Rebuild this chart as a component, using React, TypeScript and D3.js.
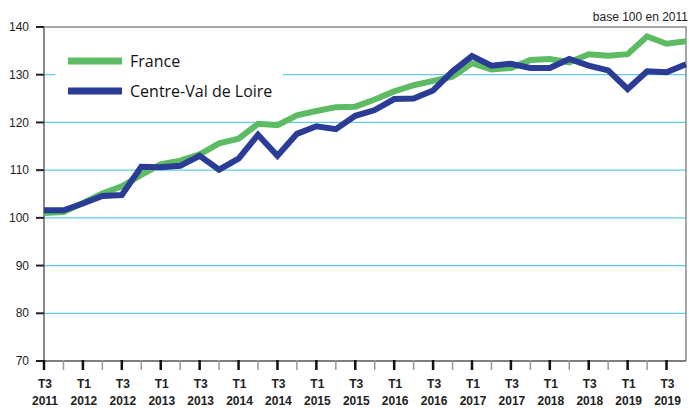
import { useRef, useEffect } from "react";
import * as d3 from "d3";

const quarters = [
  "T3 2011", "T4 2011", "T1 2012", "T2 2012", "T3 2012", "T4 2012",
  "T1 2013", "T2 2013", "T3 2013", "T4 2013", "T1 2014", "T2 2014",
  "T3 2014", "T4 2014", "T1 2015", "T2 2015", "T3 2015", "T4 2015",
  "T1 2016", "T2 2016", "T3 2016", "T4 2016", "T1 2017", "T2 2017",
  "T3 2017", "T4 2017", "T1 2018", "T2 2018", "T3 2018", "T4 2018",
  "T1 2019", "T2 2019", "T3 2019", "T4 2019",
];

const france = [
  101.0, 101.2, 103.1, 105.1, 106.6, 109.0, 111.2, 112.0, 113.3, 115.6,
  116.6, 119.7, 119.4, 121.5, 122.4, 123.2, 123.3, 124.8, 126.5, 127.8,
  128.7, 129.6, 132.4, 131.1, 131.4, 133.1, 133.3, 132.6, 134.3, 134.0,
  134.3, 138.0, 136.5, 137.0,
];

const centreValDeLoire = [
  101.6, 101.6, 103.0, 104.6, 104.8, 110.7, 110.6, 110.9, 113.0, 110.1,
  112.4, 117.4, 113.0, 117.6, 119.2, 118.6, 121.4, 122.6, 124.9, 125.0,
  126.7, 130.7, 133.9, 131.9, 132.3, 131.4, 131.4, 133.3, 131.9, 130.9,
  127.0, 130.7, 130.5, 132.2,
];

const yTicks = [70, 80, 90, 100, 110, 120, 130, 140];

const series = [
  { name: "France", values: france, color: "#5dbb63" },
  { name: "Centre-Val de Loire", values: centreValDeLoire, color: "#2b3c96" },
];

export default function App() {
  const svgRef = useRef<SVGSVGElement>(null);

  useEffect(() => {
    if (!svgRef.current) return;
    const width = 689;
    const height = 408;
    const left = 44, right = 686, top = 27, bottom = 361;

    const svg = d3.select(svgRef.current);
    svg.selectAll("*").remove();
    svg.attr("width", width).attr("height", height);

    const x = d3.scalePoint<string>().domain(quarters).range([left, right]);
    const y = d3.scaleLinear().domain([70, 140]).range([bottom, top]);

    // gridlines
    svg.append("g")
      .selectAll("line")
      .data(yTicks.filter((t) => t > 70 && t < 140))
      .join("line")
      .attr("x1", left)
      .attr("x2", right)
      .attr("y1", (d) => y(d))
      .attr("y2", (d) => y(d))
      .attr("stroke", "#62cbef")
      .attr("stroke-width", 1.2);

    // legend background hides the 130 gridline
    svg.append("rect")
      .attr("x", 55).attr("y", 38)
      .attr("width", 228).attr("height", 70)
      .attr("fill", "#fff");

    // frame
    svg.append("path")
      .attr("d", `M${left},${top}H${right}V${bottom}`)
      .attr("fill", "none")
      .attr("stroke", "#8a8a8a")
      .attr("stroke-width", 1.5);
    svg.append("line")
      .attr("x1", left).attr("x2", left)
      .attr("y1", top).attr("y2", bottom + 8)
      .attr("stroke", "#888")
      .attr("stroke-width", 2);

    // y ticks + labels
    const yg = svg.append("g");
    yg.selectAll("line")
      .data(yTicks)
      .join("line")
      .attr("x1", 36).attr("x2", left)
      .attr("y1", (d) => y(d)).attr("y2", (d) => y(d))
      .attr("stroke", "#222")
      .attr("stroke-width", 2);
    yg.selectAll("text")
      .data(yTicks)
      .join("text")
      .attr("x", 29)
      .attr("y", (d) => y(d))
      .attr("dy", "0.35em")
      .attr("text-anchor", "end")
      .attr("font-family", "Liberation Sans, Arial, sans-serif")
      .attr("font-size", 12)
      .attr("fill", "#222")
      .text((d) => d);

    // x axis
    svg.append("line")
      .attr("x1", left).attr("x2", right)
      .attr("y1", bottom).attr("y2", bottom)
      .attr("stroke", "#555")
      .attr("stroke-width", 1.5);

    const xg = svg.append("g");
    xg.selectAll("line")
      .data(quarters.slice(0, quarters.length - 1))
      .join("line")
      .attr("x1", (d) => x(d)!)
      .attr("x2", (d) => x(d)!)
      .attr("y1", bottom - 1)
      .attr("y2", bottom + 9)
      .attr("stroke", (_d, i) => (i % 2 === 0 ? "#111" : "#999"))
      .attr("stroke-width", (_d, i) => (i % 2 === 0 ? 2.5 : 1.5));

    const labels = xg.selectAll("text")
      .data(quarters.filter((_d, i) => i % 2 === 0))
      .join("text")
      .attr("text-anchor", "middle")
      .attr("font-family", "Liberation Sans, Arial, sans-serif")
      .attr("font-size", 12)
      .attr("font-weight", "bold")
      .attr("fill", "#222");
    labels.append("tspan")
      .attr("x", (d) => x(d)! + 1)
      .attr("y", 388)
      .text((d) => d.split(" ")[0]);
    labels.append("tspan")
      .attr("x", (d) => x(d)! + 1)
      .attr("y", 405)
      .text((d) => d.split(" ")[1]);

    // lines
    series.forEach((s) => {
      const line = d3.line<number>()
        .x((_d, i) => x(quarters[i])!)
        .y((d) => y(d));
      svg.append("path")
        .datum(s.values)
        .attr("d", line)
        .attr("fill", "none")
        .attr("stroke", s.color)
        .attr("stroke-width", 6)
        .attr("stroke-linejoin", "miter");
    });

    // legend
    const lg = svg.append("g");
    series.forEach((s, i) => {
      const ly = 61 + i * 30;
      lg.append("line")
        .attr("x1", 68).attr("x2", 122)
        .attr("y1", ly).attr("y2", ly)
        .attr("stroke", s.color)
        .attr("stroke-width", 7);
      lg.append("text")
        .attr("x", 130)
        .attr("y", ly)
        .attr("dy", "0.35em")
        .attr("font-family", "Open Sans, Lato, sans-serif")
        .attr("font-size", 16)
        .attr("fill", "#111")
        .text(s.name);
    });

    svg.append("text")
      .attr("x", 688)
      .attr("y", 21)
      .attr("text-anchor", "end")
      .attr("font-family", "Liberation Sans, Arial, sans-serif")
      .attr("font-size", 12)
      .attr("fill", "#222")
      .text("base 100 en 2011");

    return () => {
      svg.selectAll("*").remove();
    };
  }, []);

  return (
    <div style={{ position: "absolute", left: 0, top: 0, background: "#fff" }}>
      <svg ref={svgRef} style={{ display: "block" }} />
    </div>
  );
}
